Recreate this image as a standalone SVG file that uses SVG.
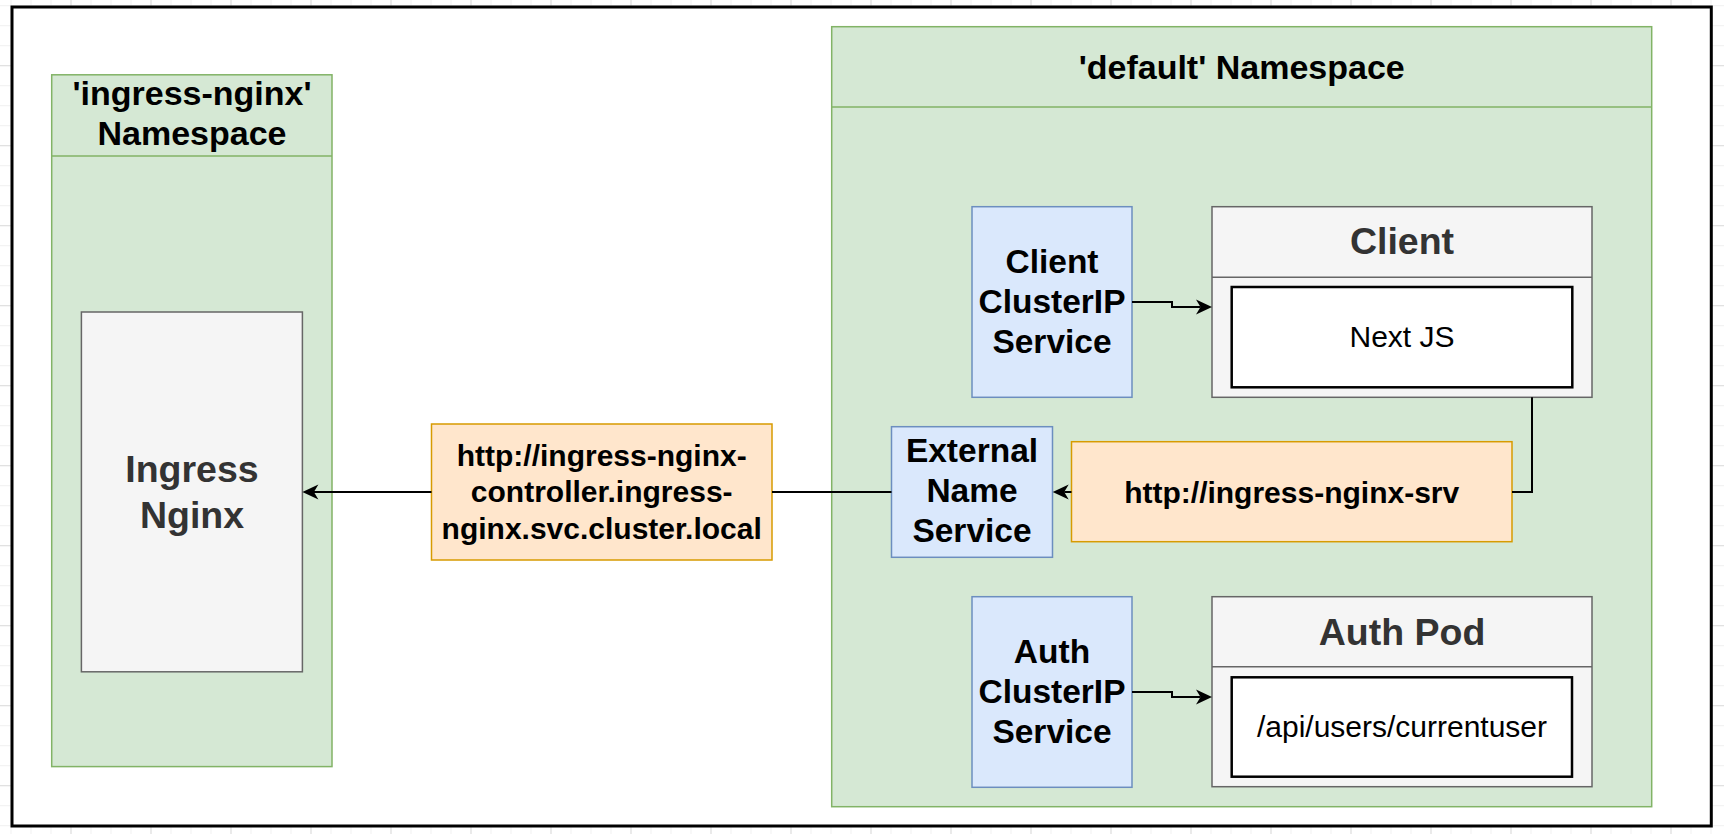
<svg xmlns="http://www.w3.org/2000/svg" width="1724" height="834" viewBox="0 0 1724 834">
<style>
text{font-family:"Liberation Sans",Arial,Helvetica,sans-serif;text-anchor:middle}
.b{font-weight:bold}
.ns{fill:#d5e8d4;stroke:#82b366;stroke-width:1.5}
.svc{fill:#dae8fc;stroke:#6c8ebf;stroke-width:1.5}
.url{fill:#ffe6cc;stroke:#d79b00;stroke-width:1.5}
.pod{fill:#f5f5f5;stroke:#666666;stroke-width:1.5}
.inner{fill:#ffffff;stroke:#000000;stroke-width:2.5}
.t34{font-size:34px;fill:#000}
.t33{font-size:33.5px;fill:#000}
.t30{font-size:30px;fill:#000}
.tg{fill:#333333;font-size:37.5px}
.edge{fill:none;stroke:#000;stroke-width:2}
</style>
<defs>
<pattern id="gmin" patternUnits="userSpaceOnUse" x="10.5" y="5.2" width="20" height="20">
<path d="M0.5,0 V20 M0,0.5 H20" stroke="#f0f0f0" stroke-width="1" fill="none"/>
</pattern>
<pattern id="gmaj" patternUnits="userSpaceOnUse" x="70.5" y="65.2" width="80" height="80">
<path d="M0.5,0 V80 M0,0.5 H80" stroke="#dcdcdc" stroke-width="1" fill="none"/>
</pattern>
<marker id="arr" markerUnits="userSpaceOnUse" viewBox="-17 -9 18 18" refX="-11.5" refY="0" markerWidth="18" markerHeight="18" orient="auto">
<path d="M0,0 L-16,-7.5 L-11.5,0 L-16,7.5 Z" fill="#000"/>
</marker>
</defs>
<rect width="1724" height="834" fill="#ffffff"/>
<rect width="1724" height="834" fill="url(#gmin)"/>
<rect width="1724" height="834" fill="url(#gmaj)"/>
<rect id="frame" x="12" y="7" width="1699.3" height="819" fill="#ffffff" stroke="#000" stroke-width="3"/>

<g id="ns-ingress">
<rect class="ns" x="51.7" y="74.8" width="280.3" height="691.8"/>
<line x1="51.7" y1="156" x2="332" y2="156" stroke="#82b366" stroke-width="1.5"/>
<text class="b t34" x="192" y="105">'ingress-nginx'</text>
<text class="b t34" x="192" y="145">Namespace</text>
</g>
<g id="ingress-nginx">
<rect class="pod" x="81.4" y="312" width="221" height="359.8"/>
<text class="b tg" x="192" y="482">Ingress</text>
<text class="b tg" x="192" y="528">Nginx</text>
</g>

<g id="ns-default">
<rect class="ns" x="831.7" y="26.7" width="820" height="780"/>
<line x1="831.7" y1="107" x2="1651.7" y2="107" stroke="#82b366" stroke-width="1.5"/>
<text class="b t34" x="1241.7" y="78.5">'default' Namespace</text>
</g>

<g id="client-svc">
<rect class="svc" x="972" y="206.7" width="160" height="190.6"/>
<text class="b t33" x="1052" y="273">Client</text>
<text class="b t33" x="1052" y="313">ClusterIP</text>
<text class="b t33" x="1052" y="353">Service</text>
</g>
<g id="client">
<rect class="pod" x="1212" y="206.7" width="380" height="190.6"/>
<line x1="1212" y1="277.3" x2="1592" y2="277.3" stroke="#666666" stroke-width="1.5"/>
<text class="b tg" x="1402" y="254">Client</text>
</g>
<g id="nextjs">
<rect class="inner" x="1231.7" y="287" width="340.6" height="100.3"/>
<text class="t30" x="1402" y="347">Next JS</text>
</g>

<g id="ext-svc">
<rect class="svc" x="891.5" y="426.7" width="161" height="130.6"/>
<text class="b t33" x="972" y="462">External</text>
<text class="b t33" x="972" y="502">Name</text>
<text class="b t33" x="972" y="542">Service</text>
</g>
<g id="srv-url">
<rect class="url" x="1071.5" y="441.7" width="440.5" height="100"/>
<text class="b t30" x="1291.7" y="502.5">http://ingress-nginx-srv</text>
</g>
<g id="controller-url">
<rect class="url" x="431.5" y="424" width="340.5" height="136"/>
<text class="b t30" x="601.7" y="465.5">http://ingress-nginx-</text>
<text class="b t30" x="601.7" y="502">controller.ingress-</text>
<text class="b t30" x="601.7" y="538.5">nginx.svc.cluster.local</text>
</g>

<g id="auth-svc">
<rect class="svc" x="972" y="596.7" width="160" height="190.6"/>
<text class="b t33" x="1052" y="663">Auth</text>
<text class="b t33" x="1052" y="703">ClusterIP</text>
<text class="b t33" x="1052" y="743">Service</text>
</g>
<g id="auth-pod">
<rect class="pod" x="1212" y="596.7" width="380" height="190"/>
<line x1="1212" y1="666.7" x2="1592" y2="666.7" stroke="#666666" stroke-width="1.5"/>
<text class="b tg" x="1402" y="644.5">Auth Pod</text>
</g>
<g id="currentuser">
<rect class="inner" x="1231.7" y="677.3" width="340.3" height="99.4"/>
<text class="t30" x="1402" y="737">/api/users/currentuser</text>
</g>

<g id="connectors">
<path class="edge" d="M1132,302 H1172 V307 H1200.5" marker-end="url(#arr)"/>
<path class="edge" d="M1132,692 H1172 V697 H1200.5" marker-end="url(#arr)"/>
<path class="edge" d="M1532,397.3 V492 H1512"/>
<path class="edge" d="M1071.5,492 H1064.2" marker-end="url(#arr)"/>
<path class="edge" d="M891.5,492 H772"/>
<path class="edge" d="M431.5,492 H313.9" marker-end="url(#arr)"/>
</g>
</svg>
